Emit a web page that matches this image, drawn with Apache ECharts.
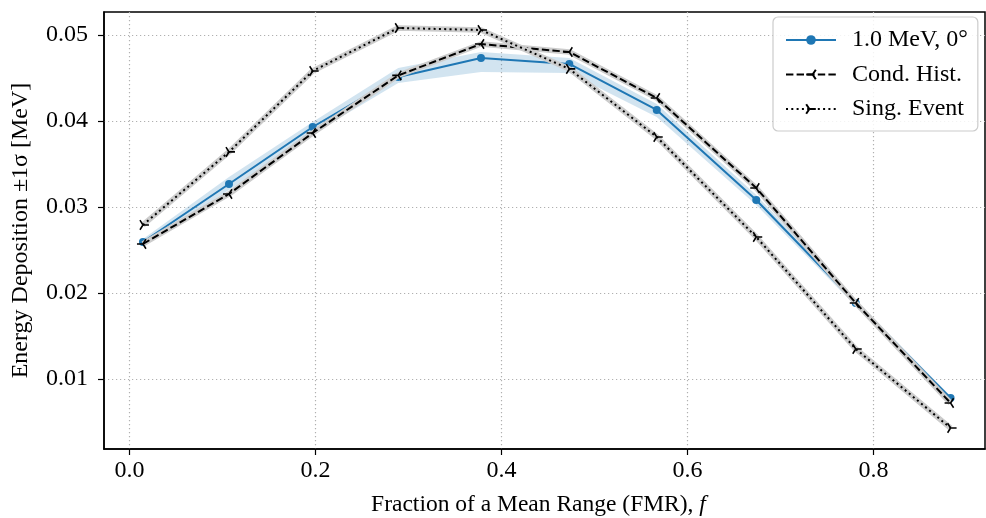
<!DOCTYPE html>
<html>
<head>
<meta charset="utf-8">
<script src="https://cdn.jsdelivr.net/npm/echarts@6/dist/echarts.min.js"></script>
<style>html,body{margin:0;padding:0;background:#fff;}#c{width:986px;height:518px;}</style>
</head>
<body>
<div id="c"></div>
<script>
// ---- data ----
const fmr        = [0.0145, 0.107, 0.197, 0.289, 0.378, 0.473, 0.567, 0.674, 0.781, 0.883];
const meanDep    = [0.02593, 0.03267, 0.0393, 0.04512, 0.04733, 0.04663, 0.04128, 0.03081, 0.01884, 0.00779];
const depLow     = [0.02558, 0.03198, 0.03849, 0.04442, 0.04570, 0.04558, 0.04047, 0.03023, 0.01849, 0.00756];
const depHigh    = [0.02628, 0.03349, 0.03988, 0.04616, 0.04802, 0.04733, 0.04198, 0.03140, 0.01919, 0.00802];
const condHist   = [0.0257, 0.03151, 0.0386, 0.0453, 0.04895, 0.04802, 0.04267, 0.03221, 0.01884, 0.00721];
const singEvent  = [0.02791, 0.0364, 0.04581, 0.05081, 0.05058, 0.04605, 0.03814, 0.02651, 0.01349, 0.0043];
const xTicks     = [0, 0.2, 0.4, 0.6, 0.8];
const yTicks     = [0.01, 0.02, 0.03, 0.04, 0.05];
const seriesNames = ['1.0 MeV, 0°', 'Cond. Hist.', 'Sing. Event'];

const pairs = ys => fmr.map((x, i) => [x, ys[i]]);
const FONT = 'Liberation Serif';
const triLeft  = 'path://M0,0L-10,0M0,0L5,8M0,0L5,-8';
const triRight = 'path://M0,0L10,0M0,0L-5,8M0,0L-5,-8';

const chart = echarts.init(document.getElementById('c'), null, {renderer: 'canvas'});
chart.setOption({
  animation: false,
  backgroundColor: '#fff',
  grid: {left: 104, right: 1, top: 12, bottom: 69, show: true, borderColor: '#000', borderWidth: 1.5,
         backgroundColor: 'transparent', containLabel: false, outerBoundsMode: 'none'},
  xAxis: {
    type: 'value', min: -0.0274, max: 0.92,
    axisLine: {show: true, onZero: false, lineStyle: {color: '#000', width: 1.5}},
    axisTick: {show: true, customValues: xTicks, length: 6, lineStyle: {color: '#000', width: 1.2}},
    axisLabel: {show: true, customValues: xTicks, formatter: v => v.toFixed(1), color: '#000', fontFamily: FONT, fontSize: 24, margin: 10},
    splitLine: {show: true, lineStyle: {color: '#b0b0b0', width: 1.2, type: [1.2, 2.8]}},
    name: 'Fraction of a Mean Range (FMR), {i|f}',
    nameLocation: 'middle', nameGap: 44,
    nameTextStyle: {color: '#000', fontFamily: FONT, fontSize: 23.5, padding: [0, 12, 0, 0],
      rich: {i: {fontStyle: 'italic', fontFamily: FONT, fontSize: 23.5, color: '#000'}}}
  },
  yAxis: {
    type: 'value', min: 0.00186, max: 0.05267,
    axisLine: {show: true, onZero: false, lineStyle: {color: '#000', width: 1.5}},
    axisTick: {show: true, customValues: yTicks, length: 6, lineStyle: {color: '#000', width: 1.2}},
    axisLabel: {show: true, customValues: yTicks, formatter: v => v.toFixed(2), color: '#000', fontFamily: FONT, fontSize: 24, margin: 16},
    splitLine: {show: true, lineStyle: {color: '#b0b0b0', width: 1.2, type: [1.2, 2.8]}},
    name: 'Energy Deposition ±1σ [MeV]',
    nameLocation: 'middle', nameGap: 71, nameRotate: 90,
    nameTextStyle: {color: '#000', fontFamily: FONT, fontSize: 24}
  },
  legend: {
    orient: 'vertical', left: 773, top: 17,
    padding: [11, 10, 10, 12], itemGap: 10.5, itemWidth: 50, itemHeight: 12,
    backgroundColor: 'rgba(255,255,255,0.85)', borderColor: '#cccccc', borderWidth: 1.2, borderRadius: 5,
    textStyle: {fontFamily: FONT, fontSize: 24, color: '#000', padding: [0, 0, 0, 11], lineHeight: 24},
    data: seriesNames
  },
  series: [
    {
      type: 'custom', name: 'band', silent: true, z: 1,
      coordinateSystem: 'cartesian2d',
      data: [[fmr[0], depLow[0]]],
      renderItem: function (params, api) {
        const up = fmr.map((x, i) => api.coord([x, depHigh[i]]));
        const lo = fmr.map((x, i) => api.coord([x, depLow[i]])).reverse();
        return {type: 'polygon', shape: {points: up.concat(lo)}, style: {fill: 'rgba(31,119,180,0.2)', stroke: null}};
      }
    },
    {
      type: 'line', name: seriesNames[0], data: pairs(meanDep), z: 2,
      symbol: 'circle', symbolSize: 8, showAllSymbol: true,
      itemStyle: {color: '#1f77b4'},
      lineStyle: {color: '#1f77b4', width: 2}
    },
    {
      type: 'line', name: 'condHalo', data: pairs(condHist), z: 3, silent: true,
      symbol: 'none', lineStyle: {color: '#cccccc', width: 5.5}
    },
    {
      type: 'line', name: seriesNames[1], data: pairs(condHist), z: 4,
      symbol: triLeft, symbolSize: [9, 9.6], symbolOffset: [-1.5, 0], showAllSymbol: true,
      itemStyle: {color: '#000', borderColor: '#000', borderWidth: 1.6},
      lineStyle: {color: '#000', width: 2, type: [7.4, 3.2]}
    },
    {
      type: 'line', name: 'singHalo', data: pairs(singEvent), z: 5, silent: true,
      symbol: 'none', lineStyle: {color: '#cccccc', width: 5.5}
    },
    {
      type: 'line', name: seriesNames[2], data: pairs(singEvent), z: 6,
      symbol: triRight, symbolSize: [9, 9.6], symbolOffset: [1.5, 0], showAllSymbol: true,
      itemStyle: {color: '#000', borderColor: '#000', borderWidth: 1.6},
      lineStyle: {color: '#000', width: 2, type: [2, 3.3]}
    }
  ]
});
</script>
</body>
</html>
